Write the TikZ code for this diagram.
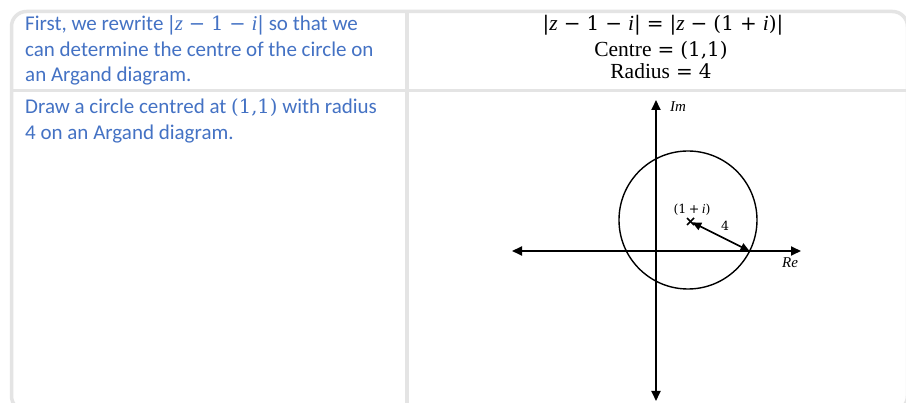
\documentclass[tikz,border=0pt]{standalone}
\usepackage{fontspec}
\setmainfont{Carlito}
\newfontfamily\serifont{Liberation Serif}
\newfontfamily\symfont{DejaVu Serif}[Scale=0.93]
\usetikzlibrary{arrows.meta,calc}
\definecolor{cellblue}{RGB}{68,114,196}
\definecolor{gridgray}{RGB}{228,228,228}
\newcommand{\mv}[1]{{\serifont\itshape #1}}
\newcommand{\ms}[1]{{\symfont #1}}
\newcommand{\mop}[1]{\hspace{0.28em}{\symfont #1}\hspace{0.28em}}
\newcommand{\mopn}[1]{\hspace{0.18em}{\symfont #1}\hspace{0.18em}}
\tikzset{
  grid/.style={draw=gridgray, line width=3.5},
  celltext/.style={text=cellblue, anchor=base west, inner sep=0,
    font=\fontsize{21}{25}\selectfont},
  mathtext/.style={anchor=base, inner sep=0,
    font=\fontsize{21.5}{22}\selectfont\serifont},
  axis/.style={line width=1.8, {Triangle[length=10,width=9]}-{Triangle[length=10,width=9]}},
  radarrow/.style={line width=1.6, {Triangle[length=9,width=8]}-{Triangle[length=9,width=8]}},
  small/.style={inner sep=0, font=\fontsize{13.5}{15}\selectfont\serifont}
}
\begin{document}
\begin{tikzpicture}[x=1pt,y=-1pt]
\useasboundingbox (0,0) rectangle (906,403);
\fill[white] (0,0) rectangle (906,403);
\begin{scope}
\clip (0,0) rectangle (906,403);
\draw[grid, rounded corners=15] (11.5,11.5) rectangle (907.5,411);
\draw[grid] (407,11.5) -- (407,411);
\draw[grid] (11.5,90.5) -- (907.5,90.5);
\end{scope}

% left column text
\node[celltext] (t1a) at (25,31) {First, we rewrite \ms{|}\mv{z}\mop{−}\ms{1}\mop{−}\mv{i}\ms{|} so that we};
\node[celltext] (t1b) at (25,56.5) {can determine the centre of the circle on};
\node[celltext] (t1c) at (25,82) {an Argand diagram.};
\node[celltext] (t2a) at (25,114) {Draw a circle centred at \ms{(1,1)} with radius};
\node[celltext] (t2b) at (25,139.5) {4 on an Argand diagram.};

% right column text
\node[mathtext] (m1) at (663,31) {\ms{|}\mv{z}\mop{−}\ms{1}\mop{−}\mv{i}\ms{|}\mop{=}\ms{|}\mv{z}\mop{−}\ms{(1}\mop{+}\mv{i}\ms{)|}};
\node[mathtext] (m2) at (661,56.5) {Centre\mop{=}\ms{(1,1)}};
\node[mathtext] (m3) at (661,78.5) {Radius\mop{=}\ms{4}};

% Argand diagram
\coordinate (reL) at (512,251);
\coordinate (reR) at (801,251);
\coordinate (imT) at (656,100);
\coordinate (imB) at (656,401);
\draw[axis] (reL) -- (reR);
\draw[axis] (imB) -- (imT);

\coordinate (ctr) at (688,220);
\draw[line width=1.4] (ctr) circle[radius=69];

\coordinate (cross) at (690.5,221.5);
\draw[line width=1.6] ($(cross)+(-3.5,-3.5)$) -- ($(cross)+(3.5,3.5)$);
\draw[line width=1.6] ($(cross)+(-3.5,3.5)$) -- ($(cross)+(3.5,-3.5)$);
\coordinate (hit) at (749.5,251);
\draw[radarrow, shorten <=2] (cross) -- (hit);

\node[small] (lbl1) at (692,210) {\ms{(1}\mopn{+}\mv{i}\ms{)}};
\node[small] (lbl4) at (725,225.5) {\ms{4}};
\node[small, font=\fontsize{15}{17}\selectfont\serifont] (im) at (678,107) {\mv{Im}};
\node[small, font=\fontsize{15}{17}\selectfont\serifont] (re) at (790,263) {\mv{Re}};
\end{tikzpicture}
\end{document}
